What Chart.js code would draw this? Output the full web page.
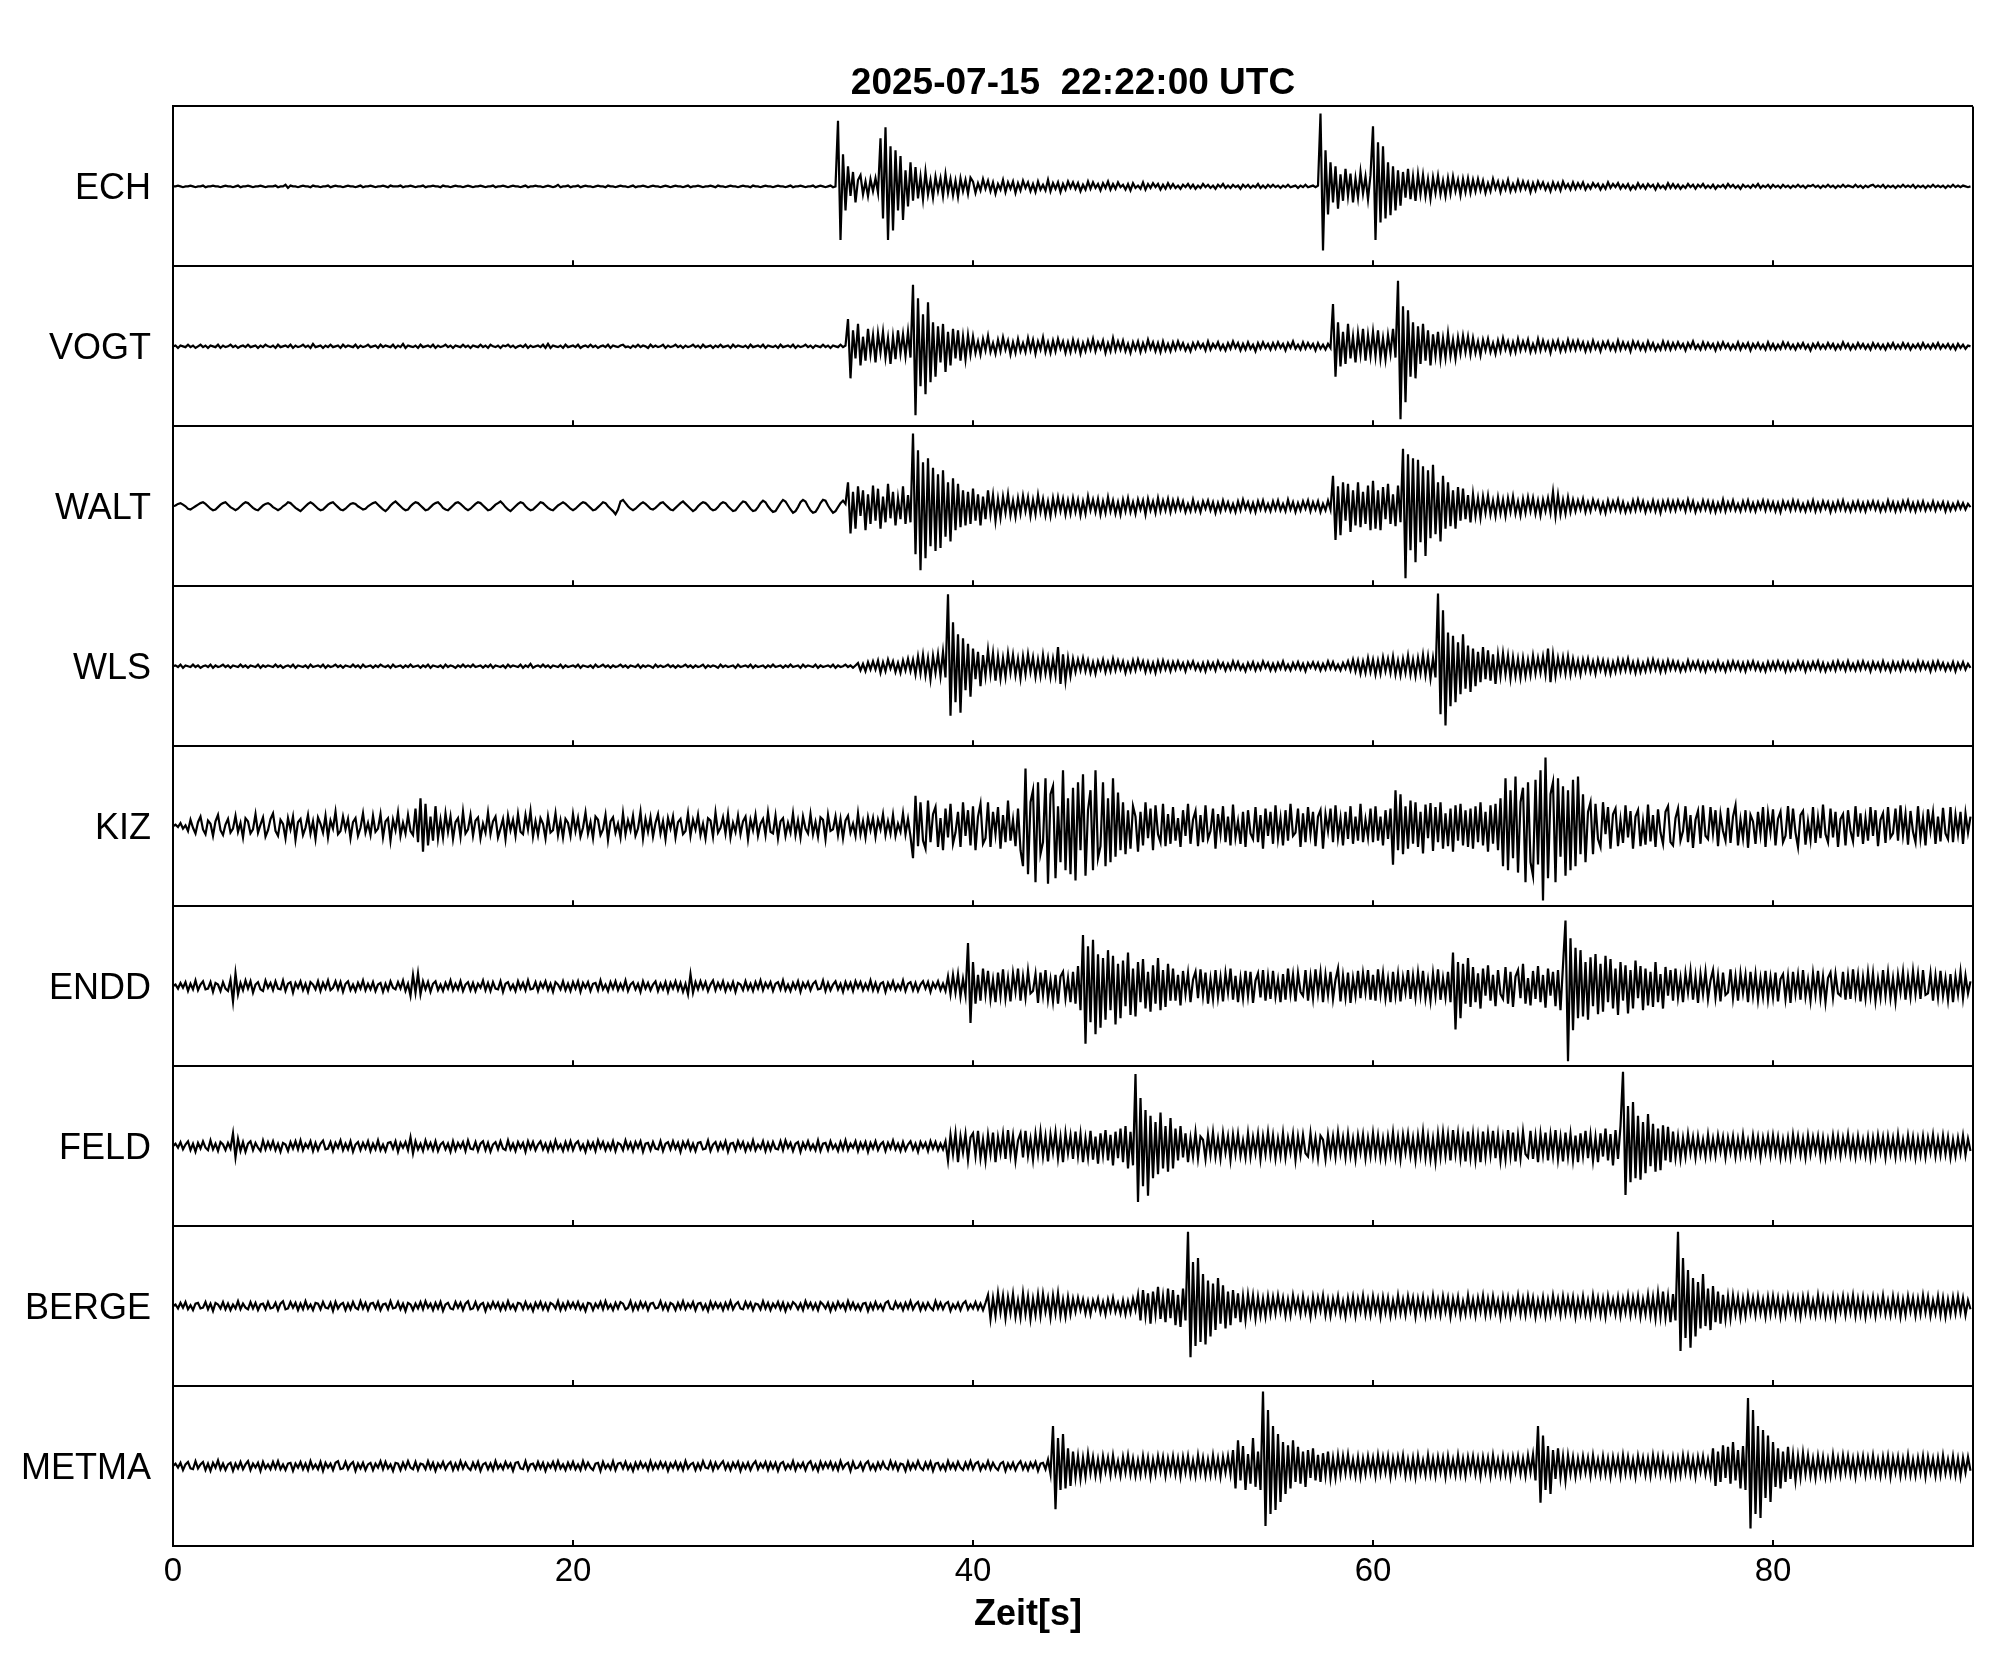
<!DOCTYPE html>
<html>
<head>
<meta charset="utf-8">
<title>Seismogramm 2025-07-15 22:22:00 UTC</title>
<script src="https://cdn.jsdelivr.net/npm/chart.js@4.4.1/dist/chart.umd.min.js"></script>
<style>
  html, body { margin: 0; padding: 0; background: #fff; }
  #wrap { width: 2005px; height: 1680px; }
</style>
</head>
<body>
<div id="wrap"><canvas id="seis" width="2005" height="1680"></canvas></div>
<script>
// station order, top to bottom
const stations = ["ECH", "VOGT", "WALT", "WLS", "KIZ", "ENDD", "FELD", "BERGE", "METMA"];
const titleText = "2025-07-15  22:22:00 UTC";
const xTitle = "Zeit[s]";
const xTicks = [0, 20, 40, 60, 80];
const xMax = 90;
const sampleStep = 0.125; // seconds between samples

// amplitudes, +/-100 = half panel height, one line = 5 s
const ech = [
  0,0,1,0,-1,0,0,1,0,-1, 0,0,1,-1,0,0,1,0,0,-1, 0,1,0,0,-1,0,1,-1,0,0, 1,0,-1,0,0,1,0,-1,0,0,
  0,1,-1,0,0,2,-2,1,0,0, -1,0,1,0,0,-1,1,0,0,-1, 0,0,1,-1,0,1,0,0,-1,0, 1,0,0,-1,0,1,-1,0,0,1,
  0,-1,0,0,1,0,-1,1,0,0, 0,1,-1,0,0,1,0,-1,0,0, 1,-1,0,0,1,0,0,-1,1,0, 0,-1,0,1,0,0,-1,0,1,0,
  -1,0,0,1,0,-1,0,0,1,-1, 0,0,1,0,-1,0,1,0,0,-1, 0,1,-1,0,0,1,0,0,-1,0, 1,0,-1,0,2,-1,0,0,1,-1,
  0,0,1,-1,0,1,0,0,-1,0, 1,0,0,-1,1,0,0,-1,0,1, 0,0,-1,0,1,-1,0,0,1,0, -1,0,1,0,0,-1,0,1,0,-1,
  0,1,0,0,-1,0,1,-1,0,0, 1,0,-1,0,0,1,0,-1,1,0, 0,-1,0,1,0,0,-1,0,1,0, 0,-1,1,0,0,-1,0,1,0,0,
  -1,0,1,0,0,-1,0,1,-1,0, 0,1,0,-1,0,0,1,-1,0,1, 0,-1,0,1,-1,0, 82,-67,40,-30,25,-12,18,-20,8,14,-10,6,-12,9,
  -6,10,-8, 60,-40,74,-67,50,-55,45,-30,38,-42,20,-25,30,-18,24,-15, 12,-16,18,-10,8,-14,12,-6,10,-12,15,-8,9,-11,7,-13,10,-6,8,-9,11,
  6,-8,4,-5,9,-3,7,-6,5,-9, 3,-4,8,-7,5,-3,6,-8,4,-5, 7,-2,5,-6,3,-7,6,-4,2,-5, 8,-6,4,-3,5,-7,3,-4,6,-2,
  5,-3,4,-6,2,-4,6,-3,5,-2, 3,-5,4,-2,6,-4,3,-3,5,-1, 2,-4,3,-5,4,-2,1,-3,5,-4, 3,-2,4,-1,3,-4,2,-3,4,-2,
  3,-2,1,-3,2,-1,3,-2,2,-3, 1,-2,3,-1,2,-2,1,-3,2,-1, 3,-2,1,-2,2,-1,1,-3,2,-1, 2,-2,1,-1,3,-2,1,-2,2,-1,
  2,-1,1,-2,1,-1,2,-1,0,1, -2,1,-1,2,-1,0,1,-1,1, 91,-80,45,-35,30,-20,25,-28,15,-18,22,-12,16,-20,10,-14,18,-9,12,-16,14,
  75,-67,55,-45,50,-40,30,-36,25,-30, 20,-24,18,-14,22,-16,12,-18,15,-10, 14,-12,9,-15,11,-8,13,-10,7,-12, 10,-9,12,-6,8,-11,9,-7,10,-8,
  8,-6,9,-5,7,-8,4,-6,9,-3, 6,-7,5,-4,8,-6,3,-5,7,-4, 6,-3,5,-7,4,-5,6,-2,5,-4, 3,-6,5,-3,4,-5,6,-2,3,-4,
  5,-3,4,-2,5,-4,2,-3,4,-1, 3,-4,2,-3,5,-2,3,-1,4,-3, 2,-2,3,-4,1,-3,4,-2,2,-3, 3,-1,2,-4,3,-2,1,-3,4,-2,
  3,-2,2,-3,1,-2,3,-1,2,-3, 2,-1,3,-2,1,-2,2,-3,1,-1, 2,-2,3,-1,2,-2,1,-3,2,-1, 1,-2,2,-1,3,-2,1,-1,2,-2,
  2,-1,1,-2,2,-1,1,-2,1,-1, 2,-1,1,-2,1,0,2,-1,1,-2, 1,-1,2,-1,1,-2,1,-1,2,-1, 1,0,-1,2,-1,1,-2,1,-1,1,
  2,-1,1,-1,2,-2,1,-1,1,-2, 1,-1,2,-1,1,-1,2,-2,1,-1, 1,-2,1,-1,2,-1,1,-1,1,-2, 1,-1,2,-1,1,-1,1,0,-1,0
];
const vogt = [
  0,1,-2,1,0,-1,2,-1,1,-2, 0,2,-1,1,-2,1,0,-1,2,-2, 1,-1,0,2,-1,1,-2,0,1,-1, 2,-1,0,1,-2,1,-1,2,0,-1,
  1,-2,2,-1,0,1,-1,2,-2,1, -1,0,2,-1,1,-2,3,-1,0,1, -2,1,-1,2,-1,0,1,-2,2,-1, 1,0,-1,2,-2,1,-1,0,2,-1,
  0,1,-2,2,-1,1,0,-1,2,-2, 1,-1,3,-2,1,0,-1,1,-2,2, -1,0,1,-1,2,-2,1,-1,0,2, -1,1,-2,1,0,-1,2,-1,1,-2,
  1,0,-1,2,-1,1,-2,2,0,-1, 1,-2,1,0,2,-1,1,-2,0,1, -1,2,-2,1,-1,0,1,-1,2,-2, 3,-2,1,0,-1,1,-2,2,-1,0,
  1,-1,2,-2,0,1,-1,2,-1,1, -2,0,1,-1,2,-2,1,0,-1,1, 2,-1,0,-2,1,-1,2,-1,1,0, -2,2,-1,1,-1,0,2,-2,1,-1,
  0,2,-1,1,-2,1,-1,0,2,-1, 1,-2,2,-1,0,1,-2,1,-1,2, -1,0,1,-2,2,-1,1,0,-1,1, -2,2,-1,0,1,-1,2,-2,1,0,
  -1,1,-2,2,-1,0,1,-1,2,-2, 1,-1,0,2,-1,1,-2,1,0,-1, 2,-1,1,-2,1,0,-1,2,-1,1, 34,-40,20,-15,28,-24,12,-18,22,-10,
  14,-20,16,-8,18,-14,10,-22,12,-16,20,-9,15,-12,18,-14, 77,-86,60,-50,40,-60,55,-45,30,-38,25,-20,28,-32,18,-24,22,-15,20,-18,12,-16,14,-10,
  12,-8,6,-10,9,-5,13,-7,4,-9, 8,-6,11,-4,7,-10,5,-8,9,-6, 4,-7,10,-5,8,-9,6,-4,11,-7, 5,-8,7,-6,9,-3,6,-8,5,-7,
  8,-5,6,-9,4,-6,7,-4,9,-6, 5,-3,7,-8,4,-6,10,-5,6,-4, 7,-6,3,-8,5,-4,6,-7,4,-5, 8,-3,5,-6,4,-7,6,-5,3,-6,
  5,-4,6,-3,4,-5,2,-6,4,-3, 5,-2,3,-5,6,-4,3,-2,5,-4, 2,-5,4,-3,6,-2,4,-5,3,-4, 5,-3,2,-6,4,-3,5,-2,3,-4,
  4,-3,5,-2,3,-5,4,-2,6,-3, 2,-4,5,-3,4,-2,3,-5,4,-3, 2,-4,3,-2, 53,-38,30,-25,18,-22,28,-15,12,-20,16,-10,22,-18,14,-12,
  18,-12,20,-15,10,-16,14,-9,22,-14, 82,-91,50,-70,45,-38,30,-40,25,-22, 28,-18,20,-24,15,-12,18,-16,10,-14, 16,-12,8,-15,11,-9,13,-7,12,-10,
  10,-8,6,-11,8,-5,9,-7,4,-9, 7,-6,10,-4,6,-8,5,-7,9,-5, 6,-4,8,-7,3,-6,9,-5,7,-4, 5,-8,6,-3,7,-6,4,-5,8,-4,
  6,-4,7,-3,5,-6,4,-5,7,-3, 4,-6,5,-2,6,-4,3,-5,7,-4, 5,-3,4,-6,6,-2,5,-4,3,-5, 6,-3,4,-5,2,-4,6,-3,5,-4,
  4,-3,5,-2,3,-5,4,-2,6,-3, 2,-4,5,-3,4,-2,3,-5,4,-3, 5,-2,3,-4,2,-3,5,-4,3,-2, 4,-5,3,-2,4,-3,2,-4,5,-3,
  3,-4,2,-3,5,-2,4,-3,2,-4, 3,-2,4,-3,2,-5,3,-2,4,-3, 2,-3,4,-2,3,-4,2,-3,5,-2, 3,-4,2,-3,4,-2,3,-3,2,-4,
  4,-2,3,-3,2,-4,3,-2,4,-3, 2,-3,4,-2,3,-4,2,-2,3,-3, 4,-2,2,-3,3,-2,4,-3,2,-2, 3,-3,2,-4,3,-2,2,-3,1,0
];
const walt = [
  0,1,3,4,2,0,-3,-4, -2,0,2,4,5,3,0,-3, -5,-4,-1,2,4,5,2,-1, -3,-5,-3,0,3,5,4,1, -2,-4,-5,-2,1,3,4,2,
  -1,-3,-5,-3,0,2,5,4, 1,-2,-4,-6,-3,0,3,5, 3,0,-3,-5,-4,-1,2,4, 5,2,-1,-4,-5,-3,0,3, 4,3,0,-2,-4,-3,0,2,
  4,5,2,-1,-4,-6,-3,1, 4,6,3,0,-3,-5,-4,0, 3,5,4,1,-2,-5,-4,-1, 2,4,5,2,-2,-4,-5,-2, 1,4,5,3,0,-3,-5,-3,
  0,3,5,4,1,-2,-5,-4, -1,2,4,6,3,-1,-4,-6, -3,0,3,5,4,0,-3,-5, -4,-1,2,5,4,1,-2,-4, -5,-2,1,3,5,3,0,-3,
  -5,-3,0,3,5,4,1,-2, -5,-4,-1,2,5,4,0,-3, -6,-10,-4,6,8,4,0,-3, -5,-3,0,3,5,3,0,-3, -4,-2,1,4,5,2,-1,-4,
  -5,-2,1,4,6,3,0,-3, -6,-4,0,3,5,4,1,-3, -5,-4,-1,3,5,4,0,-3, -6,-5,-1,3,6,5,1,-3, -6,-5,-1,4,7,5,0,-4,
  -7,-6,-1,4,8,6,1,-4, -8,-6,-1,5,8,6,0,-5, -8,-7,-2,4,8,7,1,-4, -8,-6,-1,4,7,3, 30,-34,18,-28,25,-12,20,-30,15,-22,
  26,-18,22,-28,12,-20,28,-15,18,-24,10,-16,25,-22,14,-20, 91,-60,70,-80,55,-65,60,-50,48,-56,40,-52,45,-38,30,-44,35,-30,28,-26,20,-24,18,-22,
  22,-18,15,-24,12,-16,20,-10,14,-18, 9,-14,12,-8,15,-11,7,-13,10,-9, 13,-6,11,-12,8,-10,14,-7,9,-11, 6,-12,10,-8,11,-6,9,-10,7,-9,
  10,-7,8,-11,6,-9,12,-5,8,-7, 9,-10,6,-8,11,-6,7,-9,5,-10, 8,-6,10,-7,5,-9,8,-4,7,-10, 9,-5,6,-8,10,-6,7,-5,9,-7,
  7,-5,8,-4,6,-7,3,-6,8,-5, 4,-7,6,-3,7,-5,5,-8,4,-6, 7,-4,5,-6,3,-7,6,-5,8,-3, 5,-6,4,-7,6,-4,7,-5,3,-6,
  6,-4,7,-5,3,-6,8,-4,5,-7, 4,-5,6,-3,7,-6,5,-4,6,-7,3,-5,7,-4, 38,-42,25,-36,30,-18,28,-32,20,-24,30,-26,18,-22,26,-30,
  32,-28,20,-30,24,-16,28,-22,15,-25,26,-20, 72,-90,65,-55,60,-70,58,-45,50,-62, 45,-40,52,-35,30,-44,38,-28,30,-25, 20,-28,24,-18,22,-16,14,-20,
  15,-12,10,-14,12,-8,13,-10,7,-12, 11,-9,8,-12,10,-7,12,-9,6,-11, 9,-8,11,-6,10,-9,7,-11,8,-6, 10,-8,18,-12,14,-10,8,-9,11,-7,
  8,-6,7,-4,9,-7,5,-6,8,-3, 6,-7,4,-8,7,-5,6,-4,8,-6, 5,-7,3,-6,7,-5,8,-4,6,-7, 4,-5,7,-6,5,-8,6,-4,7,-5,
  6,-5,7,-3,5,-6,8,-4,6,-7, 3,-5,7,-4,6,-6,5,-7,4,-5, 8,-6,5,-4,7,-5,3,-6,6,-4, 7,-5,4,-6,5,-3,7,-5,6,-4,
  5,-6,4,-7,6,-3,5,-5,7,-4, 6,-5,3,-6,5,-4,7,-6,4,-5, 6,-3,5,-7,4,-5,6,-4,7,-5, 3,-6,5,-4,6,-5,4,-6,5,-3,
  6,-4,5,-6,3,-5,7,-4,5,-6, 4,-5,6,-3,7,-5,4,-6,5,-4, 6,-5,3,-4,6,-5,4,-3,5,-6, 4,-5,3,-4,5,-3,4,-4,3,-1
];
const wls = [
  0,1,-1,2,-2,1,0,-1,2,-1, 1,-2,0,1,-1,2,-2,1,-1,0, 2,-1,1,-2,1,0,-1,2,-1,1, -2,1,0,-1,2,-2,1,-1,1,0,
  -1,2,-1,1,-2,0,1,-1,2,-2, 1,0,-1,1,-2,2,-1,0,1,-1, 2,-2,1,-1,0,2,-1,1,-2,1, 0,-1,2,-1,1,-2,2,-1,0,1,
  -2,1,-1,2,0,-1,1,-2,2,-1, 0,1,-2,1,-1,2,-1,0,1,-2, 1,-1,2,-2,1,0,-1,1,-2,2, -1,1,0,-2,1,-1,2,-1,1,-1,
  2,-1,0,1,-2,1,-1,2,-2,1, 0,-1,1,-2,2,-1,1,0,-1,2, -2,1,-1,3,-2,0,1,-1,2,-1, 1,-2,1,0,-1,2,-2,1,-1,0,
  1,-1,2,-2,1,0,-1,1,-2,2, -1,0,2,-1,1,-2,1,-1,0,2, -1,1,-2,1,0,-1,2,-2,1,-1, 1,0,-2,2,-1,1,-1,0,2,-1,
  1,-2,1,-1,0,2,-1,1,-2,1, -1,0,2,-2,1,-1,1,0,-2,2, -1,1,-1,0,1,-2,2,-1,0,1, -1,2,-2,1,-1,0,1,-2,1,-1,
  2,-1,0,1,-2,1,-1,2,-1,0, 1,-2,2,-1,1,0,-1,2,-2,1, -1,0,1,-1,2,-2,1,-1,0,2, -1,1,-2,1, 4,-5,3,-6,5,-4,
  6,-4,7,-8,5,-6,8,-3,6,-7, 4,-8,7,-5,9,-6,8,-10,12,-9, 14,-11,10,-16,13,-8,15,-12,18,-14, 90,-62,55,-45,40,-58,35,-30,28,-38,
  22,-16,18,-25,14,-12,20,-10,16,-18, 12,-15,10,-13,16,-8,14,-11,9,-15, 12,-10,15,-7,11,-13,8,-12,14,-9, 10,-13,9,-11,24,-22,15,-18,10,-12,
  9,-7,8,-5,10,-6,7,-8,5,-9, 6,-4,8,-7,5,-6,9,-5,7,-4, 6,-8,4,-6,7,-5,8,-3,6,-7, 5,-6,4,-8,6,-5,7,-4,5,-6,
  5,-4,6,-3,4,-6,5,-2,6,-4, 3,-5,4,-6,5,-3,4,-5,6,-2, 4,-5,3,-4,6,-3,5,-4,2,-6, 4,-3,5,-5,3,-4,6,-2,4,-5,
  3,-5,4,-3,6,-4,2,-5,4,-3, 5,-4,3,-6,4,-2,5,-3,4,-5, 3,-4,6,-3,5,-4,2,-5,4,-3, 6,-5,8,-6,7,-9,6,-8,10,-7,
  8,-10,7,-9,11,-6,9,-8,12,-10, 7,-11,9,-8,13,-10,8,-12,10,-9, 14,-11,12,-15,10,-14, 91,-60,70,-74,42,-50,38,-45,30,-35,40,-28,26,-32,
  22,-25,18,-20,24,-16,20,-18,15,-22, 14,-12,16,-10,13,-15,11,-12,9,-14, 10,-12,8,-11,13,-9,10,-8,12,-10, 22,-20,14,-12,10,-8,11,-9,12,-10,
  9,-8,7,-10,8,-6,9,-7,6,-9, 8,-5,7,-8,6,-9,5,-7,8,-6, 7,-5,9,-6,5,-8,6,-7,4,-6, 7,-5,8,-4,6,-7,5,-6,7,-4,
  6,-4,5,-6,3,-5,7,-4,5,-3, 6,-5,4,-6,5,-3,4,-5,6,-4, 3,-6,5,-4,6,-3,5,-5,4,-6, 5,-3,6,-4,4,-5,3,-6,5,-4,
  5,-4,6,-3,4,-6,5,-5,3,-4, 6,-3,5,-6,4,-4,5,-3,6,-5, 4,-6,3,-4,5,-5,6,-3,4,-5, 6,-4,3,-5,5,-4,6,-3,4,-6,
  5,-3,4,-5,6,-4,3,-6,5,-4, 4,-5,6,-3,5,-4,3,-5,6,-4, 5,-3,4,-6,5,-4,6,-3,4,-5, 3,-4,5,-6,4,-3,5,-4,3,-2
];
const kiz = [
  0,2,-1,4,-3,1,-6,8,-2,-9, 5,12,-4,-10,7,3,-12,6,14,-5, -11,2,9,-8,-3,13,-7,4,-14,10, 6,-9,-4,15,-8,2,11,-13,-5,9,
  16,-6,-12,8,3,-15,10,-4,12,-17, 5,9,-11,-2,14,-9,6,-16,11,3, -8,13,-14,7,-3,18,-10,-6,12,-4, 9,-15,5,10,-12,-2,16,-8,4,-11,
  13,-7,-3,15,-14,6,10,-18,8,-5, 17,-12,4,-9,14,-6,-11,22,-20,35, -32,28,-24,12,-18,25,-15,8,-14,16, -7,12,-16,5,10,-13,18,-9,-4,14,
  -12,7,11,-15,3,-8,17,-10,6,12, -14,-3,9,-16,13,-5,8,-12,15,-7, -10,14,-4,19,-13,6,-11,10,3,-15, 12,-8,-5,16,-11,7,-14,9,4,-12,
  15,-6,10,-13,-2,17,-9,5,-15,12, 8,-11,-4,14,-17,6,11,-8,3,-14, 16,-10,7,-5,13,-12,-3,18,-15,9, -7,11,-13,4,15,-9,6,-16,10,-3,
  12,-14,5,9,-10,-6,16,-12,8,-4, 14,-11,3,-15,10,7,-13,17,-8,-2, 11,-9,15,-14,4,-7,13,-10,6,12, -16,8,-5,14,-12,3,9,-11,17,-7,
  -9,13,-15,6,10,-12,4,-8,16,-11, 7,-14,12,-3,-9,15,-10,5,-13,11, 8,-16,14,-6,-4,12,-11,9,-15,7, 13,-8,3,-12,16,-10,6,-14,11,-5,
  10,-13,8,-4,15,-11,6,-9,14,-12,3,-7,16,-10,9,-13, -40,38,-25,30,-18,-28,32,-20,15,24,-26,10,-30,22,-14,28,-22,-8,18,-26,30,-12,20,-24,
  25,-30,12,28,-22,-15,30,-26,18,-10, 24,-28,14,-20,32,-18,8,-25,22,-30, -50,72,-60,30,45,-70,55,-35,-20,60, -72,40,50,-65,25,-45,70,-55,35,-60,
  48,-68,55,-30,65,-62,20,45,-55,70, -40,-25,55,-50,35,-45,60,-38,42,-30, 30,-35,20,-28,25,12,-32,18,-24,30, -15,22,-30,26,-10,-20,28,-25,15,-22,
  24,-18,10,-26,20,-12,28,-22,8,19, -25,14,-20,26,-16,-6,22,-28,15,-10, 25,-20,12,-24,27,-14,6,-22,18,-26, 20,-9,-16,24,-20,14,-28,22,-12,18,
  -22,26,-15,10,-24,20,-18,28,-12,-8, 22,-26,16,-20,24,-10,18,-25,12,20, -28,15,-6,22,-20,26,-14,10,-24,18, -16,25,-22,12,-18,28,-20,8,-14,22,
  -20,25,-18,12,-24,20,-16,22, -48,45,-30,40,-35,25,-28,32, -22,30,-26,18,-34,27,-15,29, -31,24,-20,30,-28,16,-25,22, -32,26,-18,28,-24,20,-26,22,
  -28,25,-20,30,-24,18,-32,26,-22,28,-30,35, -50,60,-55,45,-40,62,-58,30,48,-70, 55,-45,-62,58,-48,70,-93,86,-65,40, 55,-70,60,-38,50,-62,45,-55,
  58,-50,62,-35,40,-45,18,30, -35,28,-16,-26,30,-10,24,-28, 15,22,-25,8,-21,26,-14,19, -28,12,20,-25,6,-23,27,-19, 14,-26,21,-8,-22,18,25,-20,
  -24,10,22,-18,-6,25,-20,14,-27,8, 19,-22,26,-12,-16,24,-9,20,-25,15, -6,-18,23,-21,12,26,-24,8,-15,20, -27,14,6,-22,18,-10,24,-26,16,-8,
  21,-24,9,18,-20,-12,25,-16,22,-8, -26,14,19,-23,6,-17,24,-21,11,-15, 27,-10,-20,22,-14,18,-26,9,15,-24, 20,-6,-19,25,-13,16,-22,10,-18,24,
  -12,20,-25,8,16,-21,24,-14,-9,22, -18,26,-11,15,-23,19,-7,-20,25,-15, 10,-24,21,-6,17,-22,12,-19,23,-9, -16,24,-20,14,-10,18,-22,16,-8,12
];
const endd = [
  0,2,-3,4,-2,5,-6,3,-4,7, -5,2,6,-4,-3,5,-7,4,2,-6, 5,-3,-6,8,-19,16,-10,4,-5,7, -3,6,-8,2,5,-4,-6,7,-2,4,
  -5,6,-3,-4,7,-6,3,5,-8,4, -2,6,-5,3,-7,5,2,-4,6,-6, 4,-3,7,-5,-2,6,-4,5,-7,3, 6,-5,2,-6,4,-3,7,-5,3,-4,
  5,-6,2,4,-7,3,-5,6,-2,-4, 5,-3,7,-6,3,-12,14,-8,16,-10, 6,-4,5,-7,3,6,-5,2,-6,4, -3,7,-5,3,-4,6,-6,2,5,-5,
  4,-6,3,-2,7,-5,4,-6,5,-3, -4,6,-7,3,5,-4,2,-6,6,-3, 4,-5,7,-4,-3,5,-6,4,-2,6, -5,3,-7,5,2,-4,6,-5,3,-6,
  5,-3,6,-7,4,-2,5,-6,3,4, -5,7,-4,2,-6,5,-3,6,-5,3, -4,7,-6,2,5,-4,3,-7,6,-3, 4,-5,2,6,-6,3,-4,5,-7,4,
  -3,6,-5,4,-7,3,-10,15,-8,5, -4,6,-3,5,-6,2,7,-5,4,-3, 6,-6,3,-4,5,-7,4,2,-5,6, -4,3,-6,5,-3,7,-5,4,-2,5,
  -6,3,5,-4,7,-5,2,-6,4,-3, 6,-7,4,-2,5,-5,3,6,-4,-3, 7,-6,4,-5,2,6,-4,3,-7,5, -3,4,-6,6,-2,5,-5,3,-4,7,
  -5,4,-6,3,5,-7,4,-3,6,-5, 2,-4,7,-6,3,5,-5,4,-6,2, 6,-3,5,-7,4,-2,6,-5,3,-6, 12,-10,14,-8,15,-13,9,-11,54,-46,
  30,-22,14,-18,22,-10,19,-16,8,-20, 17,-12,21,-15,10,-19,16,-7,22,-18, 12,-14,19,-9,-6,15,-21,17,-11,20, -16,8,-19,14,-22,12,18,-15,10,-20,
  18,-22,25,-30, 64,-72,50,-45,58,-60,40,-52,35,-42, 45,-30,38,-48,28,-40,32,-25,42,-36, 22,-38,30,-20,34,-28,18,-32,26,-22, 35,-30,20,-26,28,-18,
  22,-18,14,-24,19,-10,16,-20,8,18, -15,21,-12,17,-22,9,-16,20,-14,11, -19,16,-8,22,-17,13,-20,10,-15,19, -12,18,-21,7,16,-14,20,-18,12,-16,
  19,-13,8,-20,15,-17,22,-10,14,-19, 16,-7,-12,20,-18,12,-15,21,-9,17, -20,14,-11,18,-16,8,22,-19,13,-14, 17,-21,10,-12,19,-15,16,-8,20,-17,
  14,-18,21,-10,16,-15,9,-20,18,-12, 15,-19,11,-8,20,-16,13,-14,17,-11, 19,-15,8,-18,16,-12,21,-17,10,-14, 18,-20, 42,-54,30,-40,28,-22,35,-26,
  24,-20,16,-28,22,-12,26,-18,14,-25, 20,-10,-16,24,-22,18,-26,12,20,-15, 28,-22,10,-24,19,-16,25,-20,14,-27, 22,-12,18,-25,20,-30,26, 82,-94,60,
  -55,48,-40,45,-38,30,-42,36,-25,40, -35,28,-32,38,-20,34,-28,22,-36,30, -18,26,-34,20,-28,32,-15,25,-30,22, -24,18,-26,30,-20,15,-28,24,-12,20,
  -18,22,-14,10,-20,16,-8,19,-17,12, -21,15,-10,18,-16,7,20,-14,13,-19, 17,-11,-8,21,-15,12,-18,16,-9,14, -20,18,-12,15,-17,10,-13,19,-16,11,
  -14,17,-19,9,15,-16,12,-21,18,-10, 14,-17,20,-13,8,-18,16,-11,19,-15, 12,-20,10,17,-14,15,-9,-12,18,-17, 13,-16,21,-10,14,-19,11,-15,17,-12,
  16,-18,9,-14,20,-12,17,-15,10,-19, 14,-8,18,-17,12,-13,19,-10,15,-16, 20,-11,-9,16,-18,13,-14,19,-12,10, -17,15,-20,12,-10,18,-15,13,-9,6
];
const feld = [
  0,3,-2,5,-4,2,6,-5,3,-7, 4,-3,6,-2,-5,7,-4,3,-6,5, 2,-5,4,-3,16,-14,9,-6,5,-7, 3,6,-5,4,-2,-6,7,-4,5,-3,
  6,-5,3,-7,4,2,-6,5,-3,6, -4,7,-5,3,-2,6,-6,4,-5,3, 7,-4,-3,5,-6,4,-2,7,-5,3, -4,6,-7,2,5,-5,4,-3,6,-6,
  3,-4,7,-5,2,-6,4,5,-3,6, -7,4,-2,5,-5,11,-9,6,-4,3, -6,7,-3,4,-5,6,-6,2,5,-4, 3,-7,6,-5,4,-2,5,-6,7,-3,
  -4,5,-6,3,6,-5,4,-7,2,5, -4,6,-3,-5,7,-4,3,-6,5,-2, 4,-7,6,-3,5,-5,2,6,-4,3, -6,4,-5,7,-3,2,-6,5,-4,6,
  -5,3,6,-4,2,-7,5,-3,4,-6, 7,-2,5,-5,3,-4,6,-6,4,2, -5,7,-3,4,-6,5,-2,6,-7,3, 4,-5,5,-3,-4,6,-6,3,5,-4,
  6,-3,4,-7,5,-2,6,-5,3,-6, 4,5,-4,-3,7,-6,2,5,-5,4, -3,6,-7,3,4,-5,6,-2,5,-6, 3,-4,7,-5,2,-3,6,-6,4,-5,
  5,-3,-4,6,-5,7,-2,4,-6,3, 5,-7,4,-3,6,-4,2,-5,7,-6, 3,4,-5,6,-3,2,-6,5,-4,7, -5,3,-2,6,-6,4,-3,5,-7,4,
  -3,6,-5,2,5,-6,4,-3,7,-4, 3,-6,5,-5,2,6,-4,3,-7,5, -2,4,-6,6,-3,5,-5,3,-4,6, -18,14,-10,16,-20,12,-8,15,-17,11,
  16,-12,19,-15,8,-18,14,-10,17,-20, 11,-9,15,-16,20,-11,13,-18,7,16, -14,19,-12,9,-17,15,-10,18,-13,12, -19,14,-8,17,-15,11,-20,16,-9,13,
  -16,18,-12,15,-20,10,-14,19,-17,12, -22,16,-11,20,-18,14,-24,18,-15,22, -20,25,-28,18,-24, 90,-70,60,-50,45,-62,38,-40,30,-35,42,-28,25,-32,35,
  -28,22,-18,25,-14,16,-20,10,-13,17, -15,12,8,-16,14,-11,17,-13,9,-15, 16,-8,12,-17,14,-10,15,-12,7,-14, 16,-13,11,-9,15,-16,12,-10,17,-11,
  13,-15,9,-12,16,-14,10,-8,15,-17, 12,-11,14,-9,-13,16,-12,10,-15,13, 8,-16,14,-10,12,-13,17,-9,11,-14, 15,-12,9,-16,13,-8,14,-15,10,-12,
  16,-11,13,-14,9,-15,12,-10,17,-13, 11,-16,14,-8,15,-12,10,-17,13,-11, 18,-14,12,-16,9,-19,15,-13,17,-12, 14,-18,20,-10,16,-15,12,-19,18,-14,
  15,-17,12,-20,18,-13,16,-11,19,-15, 14,-18,10,-16,20,-12,17,-19,13,-15, 18,-10,-14,19,-16,12,-20,15,-11,17, -18,14,-12,20,-16,11,-19,17,-13,15,
  -17,13,-20,16,-12,19,-15,14,-18,11, -20,16,-13,22,-18,15,-24,20,-16,25, 93,-61,50,-45,55,-40,38,-42,30,-34, 40,-25,28,-32,22,-30,26,-18,24,-20,
  18,-14,12,-16,10,-13,15,-9,11,-14, 12,-10,8,-13,14,-11,9,-12,13,-7, 11,-14,10,-8,12,-13,9,-11,14,-10, 7,-12,13,-9,11,-14,10,-8,12,-11,
  13,-9,11,-14,8,-12,10,-13,14,-8, 12,-11,9,-14,13,-10,11,-7,12,-13, 10,-14,8,-11,13,-9,12,-12,10,-8, 14,-11,9,-13,12,-10,8,-12,11,-14,
  10,-12,13,-8,11,-14,12,-9,10,-13, 14,-11,8,-12,13,-10,11,-14,9,-11, 12,-13,10,-8,14,-12,9,-11,13,-10, 11,-14,8,-12,10,-9,13,-11,9,-6
];
const berge = [
  0,2,-3,4,-2,5,-4,1,-5,3, 4,-3,-2,5,-4,3,-6,4,2,-3, 5,-4,3,-5,2,-3,6,-4,3,-2, -4,5,-3,4,-5,2,3,-4,5,-3,
  -2,4,-5,3,6,-4,-3,5,-2,4, -5,3,-4,6,-3,2,-5,4,3,-4, 5,-2,-3,4,-6,5,-3,2,4,-5, 3,-4,5,-2,-4,6,-3,4,-5,3,
  4,-3,5,-5,2,3,-4,6,-3,-2, 5,-4,3,-6,4,2,-5,3,-3,5, -4,6,-2,3,-5,4,-3,5,-6,2, 4,-3,-4,5,-2,4,-5,3,6,-4,
  -3,5,-4,2,4,-6,3,-3,5,-2, 4,-5,3,-4,6,-3,2,-5,4,3, -4,5,-3,2,-6,4,-2,5,-4,3, -5,4,2,-3,6,-5,3,-4,5,-2,
  4,-3,5,-4,2,-6,4,3,-5,3, -2,5,-4,6,-3,2,-5,4,-3,5, 3,-4,-2,6,-5,3,-4,5,-2,4, -5,3,4,-3,-2,6,-4,3,-5,4,
  2,-5,4,-3,6,-4,3,-2,5,-5, 3,4,-4,2,-6,5,-3,4,-2,3, -5,4,-3,6,-4,2,5,-3,-4,5, -2,4,-5,3,2,-4,6,-3,4,-5,
  3,-2,5,-4,4,-6,3,-3,5,2, -4,3,-5,6,-2,4,-4,3,-5,5, 2,-3,4,-6,3,-4,5,-2,3,-5, 6,-3,4,-4,2,-5,3,4,-6,3,
  -4,5,-3,2,-5,4,6,-3,-4,5, -2,3,-5,4,-3,6,-4,2,5,-5, 3,-4,4,-2,-5,6,-3,4,-4,3, 5,-6,2,-3,4,-5,3,6,-4,2,
  -3,5,-4,3,-5,4, 14,-16,10,-12,16,-8,13,-15,11,-9, 15,-13,7,-14,16,-10,12,-16,9,-11, 14,-12,15,-7,10,-14,13,-9,16,-12, 8,-13,11,-10,
  9,-7,10,-5,8,-9,6,-10,7,-4, 9,-8,5,-10,8,-6,10,-7,4,-9, 7,-10,6,-8,9,-5, 14,-18,20,-12,16,-22,18,-10,24,-16,12,-20,22,-15,
  20,-24,14,-26,22,-18, 93,-64,55,-50,60,-45,40,-48,32,-38, 28,-30,35,-22,26,-28,18,-24,20,-15, 16,-20,12,-17,14,-10,13,-15,11,-12, 9,-13,12,-10,
  11,-9,13,-7,10,-12,8,-11,13,-6, 9,-10,12,-8,7,-13,11,-9,10,-6, 13,-11,8,-12,9,-7,12,-10,6,-13, 10,-8,11,-12,9,-7,13,-10,8,-11,
  12,-7,9,-13,11,-8,10,-12,7,-10, 13,-9,8,-11,12,-6,10,-13,9,-8, 11,-12,7,-10,13,-9,8,-11,12,-7, 10,-13,9,-8,11,-12,6,-10,13,-9,
  8,-12,10,-7,13,-11,9,-10,12,-8, 7,-13,11,-9,10,-12,8,-7,13,-10, 9,-11,12,-8,10,-13,7,-9,11,-12, 8,-10,13,-7,9,-11,12,-9,10,-8,
  11,-13,8,-9,12,-10,7,-12,13,-8, 10,-11,9,-13,12,-7,8,-10,11,-12, 9,-8,13,-11,10,-9,12,-13,8,-10, 14,-12,11,-15,16,-13,18,-14,12,-20,
  15,-18, 93,-56,60,-40,45,-52,35,-38,30,-28, 40,-25,22,-30,25,-20,18,-22,14,-16, 12,-15,13,-10,11,-14,9,-12,13,-8, 10,-11,12,-9,8,-13,11,-10,
  12,-9,10,-13,8,-11,12,-7,10,-12, 9,-13,11,-8,12,-10,7,-11,13,-9, 10,-12,8,-10,11,-13,9,-7,12,-11, 10,-8,13,-12,9,-10,11,-13,8,-9,
  11,-12,9,-8,13,-10,7,-11,12,-9, 10,-13,8,-11,12,-7,10,-12,9,-10, 13,-8,11,-12,7,-9,12,-11,10,-13, 8,-10,11,-9,12,-8,10,-11,7,-4
];
const metma = [
  0,3,-2,4,-5,2,5,-3,-4,6, -3,2,5,-5,3,-6,4,-2,7,-4, 3,-5,2,4,-6,3,-3,5,-4,2, 6,-5,3,-2,4,-6,5,-3,2,-4,
  5,-3,6,-4,2,-5,3,4,-6,3, -2,5,-4,3,-5,6,-3,2,-4,5, -6,4,-2,3,-5,4,6,-4,-3,5, -4,2,5,-6,3,-3,4,-5,2,4,
  -5,3,-2,6,-4,5,-3,2,-6,4, 3,-5,4,-3,6,-2,-4,5,-5,3, 2,-4,6,-3,4,-6,3,-2,5,-4, 2,5,-5,3,-4,6,-3,4,-2,-5,
  4,-3,5,-6,2,4,-4,3,-5,6, -3,2,-4,5,-2,3,-6,4,5,-3, -4,6,-5,2,3,-4,5,-3,4,-6, 3,-2,5,-4,6,-3,2,-5,4,-3,
  5,-4,2,-5,6,-3,4,-2,-5,3, 4,-6,5,-3,2,-4,6,-5,3,4, -3,5,-4,2,-6,4,-3,5,-2,3, -5,6,-4,3,-3,5,-2,4,-6,3,
  -2,5,-4,3,-5,6,-3,2,4,-5, 3,-4,6,-2,-3,5,-5,4,-3,2, 6,-4,3,-5,4,-2,5,-6,3,-3, 4,-5,2,6,-4,3,-2,5,-5,4,
  -3,4,-6,3,5,-4,2,-3,6,-5, 3,-2,4,-5,3,6,-4,2,-6,5, -3,4,-2,5,-4,3,-5,6,-3,2, 4,-6,5,-3,-2,4,-5,3,6,-4,
  2,-5,4,-3,5,-2,-4,6,-3,4, -5,3,2,-6,5,-4,3,-3,6,-2, -5,4,-3,5,-6,3,4,-4,2,-5, 6,-3,3,-4,5,-2,-5,4,-3,6,
  -4,3,5,-5,2,-3,6,-4,4,-2, -5,3,5,-6,3,-3,4,-5,2,6, -4,3,-5,4,-2,5,-6,3,4,-4, 8,-10, 50,-54,35,-30,40,-28,22,-25,
  18,-14,12,-16,10,-13,15,-9,11,-12, 8,-13,12,-7,10,-11,13,-9,6,-12, 11,-8,13,-10,9,-12,7,-11,12,-9, 10,-13,8,-10,12,-7,11,-12,9,-8,
  12,-10,9,-13,11,-8,12,-11,7,-12, 13,-9,10,-12,8,-11,13,-10,9,-13, 11,-8,12,-10, 20,-28,32,-18,25,-30,15,-22,35,-26,18,-30, 93,-75,70,-60,
  50,-55,40,-45,30,-35,26,-28,32,-20, 24,-22,18,-26,20,-15,22,-18,14,-20, 16,-12,18,-15,10,-14,13,-11,12,-9, 14,-10,8,-12,11,-13,9,-10,12,-8,
  10,-12,13,-9,11,-8,12,-13,9,-10, 11,-7,13,-12,8,-11,10,-13,12,-9, 7,-11,13,-10,9,-12,11,-8,10,-13, 12,-9,8,-11,13,-10,9,-12,11,-7,
  12,-10,9,-13,11,-8,10,-12,13,-9, 8,-11,12,-10,9,-13,11,-7,12,-10, 9,-12,13,-8,14,-18, 50,-46,38,-30,25,-35,20,-16,22,-14,12,-18,13,-10,
  11,-13,9,-10,12,-8,10,-12,13,-9, 8,-11,12,-10,9,-13,11,-8,10,-12, 13,-9,11,-10,8,-13,12,-7,10,-11, 9,-12,13,-8,11,-10,12,-9,8,-13,
  10,-12,9,-11,13,-8,12,-10,9,-13,11,-7,12,-10,8,-11, 22,-25,18,-20,26,-15,24,-22,30,-18,20,-28,25,-30, 85,-78,70,-60,50,-65,45,-40,38,-45,
  30,-26,22,-28,18,-20,24,-16,14,-18, 12,-14,16,-10,13,-12,9,-14,12,-10, 11,-13,8,-12,14,-9,10,-11,13,-8, 12,-10,9,-13,11,-7,12,-11,10,-9,
  13,-10,8,-12,11,-9,12,-13,10,-8, 11,-12,9,-10,13,-11,8,-12,10,-9, 12,-13,11,-8,9,-12,10,-11,13,-9, 8,-10,12,-11,9,-13,10,-8,11,-6
];
const traces = [ech, vogt, walt, wls, kiz, endd, feld, berge, metma];

const FONT = '"Liberation Sans", Arial, Helvetica, sans-serif';
const INK = "#000";

// one stacked y axis per station
const scales = {
  x: {
    type: "linear",
    min: 0,
    max: xMax,
    afterBuildTicks: (axis) => { axis.ticks = xTicks.map((v) => ({ value: v })); },
    afterFit: (axis) => { axis.height = 134; },
    grid: { display: false, drawTicks: false },
    border: { display: true, color: INK, width: 2 },
    ticks: { color: INK, padding: 6, font: { family: FONT, size: 33 } },
    title: {
      display: true,
      // trailing spaces push the centred label left, as in the original plot
      text: xTitle + "         ",
      color: INK,
      font: { family: FONT, size: 36, weight: "bold" },
      padding: { top: 0, bottom: 43 },
    },
  },
};
stations.forEach((name, i) => {
  scales["y" + i] = {
    type: "linear",
    position: "left",
    stack: "traces",
    stackWeight: 1,
    weight: stations.length - i,
    min: -100,
    max: 100,
    afterBuildTicks: (axis) => { axis.ticks = [{ value: -100 }, { value: 0 }, { value: 100 }]; },
    afterFit: (axis) => { axis.width = 173; },
    grid: {
      drawTicks: false,
      lineWidth: 2,
      color: (ctx) => (ctx.tick && ctx.tick.value === 0 ? "rgba(0,0,0,0)" : INK),
    },
    border: { display: true, color: INK, width: 2 },
    ticks: {
      color: INK,
      padding: 22,
      labelOffset: 3,
      font: { family: FONT, size: 36 },
      callback: (v) => (v === 0 ? name : ""),
    },
  };
});

const datasets = traces.map((vals, i) => ({
  label: stations[i],
  yAxisID: "y" + i,
  data: vals.map((v, k) => ({ x: k * sampleStep, y: v })),
  borderColor: INK,
  borderWidth: 2.2,
  pointRadius: 0,
  tension: 0,
  fill: false,
}));

// right frame edge and the small inward ticks at each panel bottom
const panelFrame = {
  id: "panelFrame",
  afterDatasetsDraw(chart) {
    const { ctx, chartArea, scales } = chart;
    ctx.save();
    ctx.strokeStyle = INK;
    ctx.lineWidth = 2;
    ctx.beginPath();
    ctx.moveTo(chartArea.right, chartArea.top);
    ctx.lineTo(chartArea.right, chartArea.bottom);
    stations.forEach((s, i) => {
      const y = scales["y" + i];
      scales.x.ticks.forEach((t) => {
        const px = Math.round(scales.x.getPixelForValue(t.value));
        ctx.moveTo(px, y.bottom);
        ctx.lineTo(px, y.bottom - 6);
      });
    });
    ctx.stroke();
    ctx.restore();
  },
};

new Chart(document.getElementById("seis"), {
  type: "line",
  data: { datasets },
  options: {
    responsive: false,
    animation: false,
    devicePixelRatio: 1,
    layout: { padding: { left: 0, right: 32, top: 0, bottom: 0 } },
    scales,
    plugins: {
      legend: { display: false },
      tooltip: { enabled: false },
      title: {
        display: true,
        text: titleText,
        fullSize: false,
        color: INK,
        font: { family: FONT, size: 37, weight: "bold" },
        padding: { top: 62, bottom: 0 },
      },
    },
  },
  plugins: [panelFrame],
});
</script>
</body>
</html>
